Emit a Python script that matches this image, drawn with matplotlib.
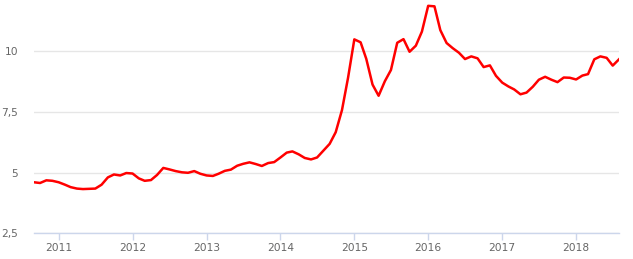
import pandas as pd
import numpy as np
import matplotlib
matplotlib.use('Agg')
import matplotlib.pyplot as plt
import matplotlib.dates as mdates
from matplotlib.ticker import FuncFormatter

# monthly series, Sep 2010 .. Aug 2018
start_month = '2010-09-01'
values = [
    4.60, 4.57, 4.68, 4.66,                                                  # 2010
    4.60, 4.50, 4.40, 4.34, 4.32, 4.33, 4.34, 4.50, 4.80, 4.92, 4.88, 4.98,  # 2011
    4.96, 4.76, 4.66, 4.69, 4.90, 5.19, 5.13, 5.06, 5.01, 4.99, 5.06, 4.95,  # 2012
    4.88, 4.86, 4.95, 5.07, 5.12, 5.28, 5.36, 5.42, 5.35, 5.27, 5.39, 5.43,  # 2013
    5.62, 5.82, 5.87, 5.75, 5.60, 5.54, 5.62, 5.90, 6.18, 6.66, 7.57, 8.90,  # 2014
    10.48, 10.36, 9.68, 8.62, 8.16, 8.76, 9.22, 10.34, 10.49, 9.97, 10.22, 10.80,  # 2015
    11.86, 11.84, 10.86, 10.33, 10.12, 9.93, 9.67, 9.78, 9.70, 9.34, 9.41, 8.98,  # 2016
    8.70, 8.54, 8.42, 8.22, 8.29, 8.53, 8.82, 8.94, 8.82, 8.72, 8.91, 8.90,  # 2017
    8.83, 8.99, 9.05, 9.66, 9.78, 9.72, 9.40, 9.66,                          # 2018
]
y_ticks = [2.5, 5, 7.5, 10]
x_years = list(range(2011, 2019))

dates = pd.date_range(start_month, periods=len(values), freq='MS')

fig = plt.figure(figsize=(6.33, 2.59), dpi=100)
ax = fig.add_axes([34 / 633, 1 - 233.3 / 259, (619 - 34) / 633, 233.3 / 259])

ax.plot(dates, values, color='#ff0000', linewidth=1.8, solid_joinstyle='round', zorder=3)

ax.set_xlim(dates[0], dates[-1])
ax.set_ylim(2.5, 12.1)

ax.set_yticks(y_ticks)
ax.yaxis.set_major_formatter(FuncFormatter(lambda v, p: ('%g' % v).replace('.', ',')))
ax.set_xticks([pd.Timestamp(f'{y}-01-01') for y in x_years])
ax.xaxis.set_major_formatter(mdates.DateFormatter('%Y'))

ax.grid(axis='y', color='#e6e6e6', linewidth=1)
ax.set_axisbelow(True)
for s in ['top', 'right', 'left']:
    ax.spines[s].set_visible(False)
ax.spines['bottom'].set_color('#ccd6eb')
ax.spines['bottom'].set_linewidth(1)

# pads/lengths in points (1 px = 0.72 pt at 100 dpi)
ax.tick_params(axis='y', length=0, pad=11.3, labelsize=7.7, labelcolor='#666666')
ax.tick_params(axis='x', length=5, width=1, color='#ccd6eb', pad=2,
               labelsize=7.7, labelcolor='#666666')

fig.savefig('out.png', dpi=100)
